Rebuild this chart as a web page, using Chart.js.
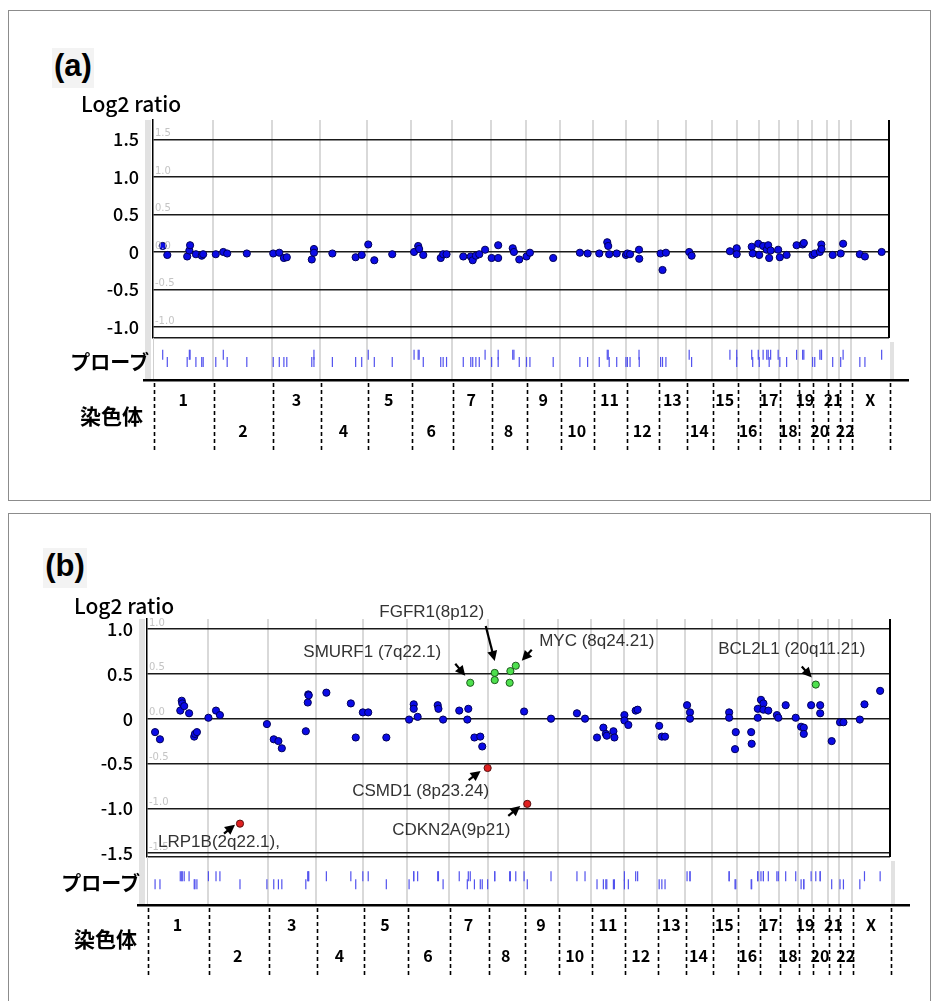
<!DOCTYPE html>
<html>
<head>
<meta charset="utf-8">
<script src="https://cdn.jsdelivr.net/npm/chart.js@4.4.1/dist/chart.umd.min.js"></script>
<style>
  body { margin: 0; background: #fff; width: 938px; height: 1001px; overflow: hidden; position: relative; }
  canvas { position: absolute; left: 0; }
  .box { position: absolute; left: 8px; width: 921px; border: 1px solid #8c8c8c; }
  .tag { position: absolute; height: 40px; line-height: 40px; background: #f3f3f3; text-align: center;
         font: bold 31px "Liberation Sans", Arial, sans-serif; color: #000; }
  .ylab { position: absolute; font: 500 21px "Noto Sans CJK JP", sans-serif; line-height: 24px; color: #000; }
  .jp { position: absolute; font: bold 20px "Noto Sans CJK JP", sans-serif; line-height: 26px; color: #000; text-align: right; }
</style>
</head>
<body>
<div class="box" style="top:10px;height:489px"></div>
<div class="box" style="top:513px;height:520px"></div>

<canvas id="chartA" width="938" height="505" style="top:0"></canvas>
<canvas id="chartB" width="938" height="496" style="top:505px"></canvas>

<div class="tag" style="left:52px;top:48px;width:42px">(a)</div>
<div class="ylab" style="left:81px;top:91px">Log2 ratio</div>
<div class="jp" style="left:30px;top:349px;width:119px">プローブ</div>
<div class="jp" style="left:70px;top:402px;width:73px;font-size:21px">染色体</div>

<div class="tag" style="left:43px;top:548px;width:44px">(b)</div>
<div class="ylab" style="left:74px;top:593px">Log2 ratio</div>
<div class="jp" style="left:20px;top:870px;width:120px">プローブ</div>
<div class="jp" style="left:63px;top:925px;width:74px;font-size:21px">染色体</div>

<script>
// chromosomes (length in Mb)
const chromNames = ['1','2','3','4','5','6','7','8','9','10','11','12','13','14','15','16','17','18','19','20','21','22','X'];
const chromLen = [249.3, 243.2, 198.0, 191.2, 180.9, 171.1, 159.1, 146.4, 141.2, 135.5, 135.0, 133.9,
                  115.2, 107.3, 102.5, 90.4, 81.2, 78.1, 59.1, 63.0, 48.1, 51.3, 155.3];

// panel (a): genome position (Mb, cumulative) and log2 ratio
const posA = [40, 59, 141, 150, 153, 177, 201, 207, 259, 290, 306, 387, 496, 521, 540, 552, 655, 664, 664, 740,
              836, 861, 888, 913, 987, 1077, 1094, 1098, 1115, 1187, 1197, 1211, 1280, 1311, 1319, 1332, 1346, 1370,
              1397, 1424, 1424, 1484, 1489, 1511, 1541, 1555, 1651, 1761, 1793, 1841, 1874, 1878, 1882, 1913, 1951,
              1957, 1968, 2005, 2006, 2094, 2102, 2116, 2212, 2222, 2380, 2408, 2408, 2470, 2474, 2497, 2501, 2517,
              2532, 2538, 2542, 2548, 2579, 2586, 2614, 2655, 2680, 2685, 2721, 2730, 2751, 2757, 2758, 2804, 2837,
              2847, 2916, 2937, 3006];
const valA = [0.08, -0.04, -0.06, 0.02, 0.09, -0.03, -0.05, -0.03, -0.03, 0, -0.02, -0.02, -0.02, -0.01, -0.08, -0.07,
              -0.1, 0.04, -0.01, -0.02, -0.07, -0.04, 0.1, -0.11, -0.03, 0, 0.08, 0.04, -0.04, -0.08, -0.03, -0.03,
              -0.06, -0.06, -0.11, -0.05, -0.03, 0.03, -0.08, 0.09, -0.08, 0.05, 0, -0.1, -0.06, -0.01, -0.08, -0.01,
              -0.02, -0.02, 0.13, 0.08, -0.03, -0.02, -0.04, -0.02, -0.03, 0.03, -0.09, -0.02, -0.24, -0.01, 0, -0.05,
              0.01, 0.05, -0.03, 0.07, -0.02, 0.11, -0.04, 0.08, 0.03, 0.09, -0.08, 0.02, 0.03, -0.07, -0.04, 0.09,
              0.1, 0.12, -0.04, -0.02, 0, 0.1, 0.04, -0.04, -0.02, 0.11, -0.03, -0.06, 0];

// panel (b): ordinary probes
const posB = [33, 53, 136, 142, 144, 152, 172, 193, 196, 204, 251, 282, 298, 490, 518, 537, 551, 649, 657, 659, 661,
              733, 833, 853, 882, 904, 978, 1071, 1090, 1090, 1106, 1188, 1191, 1210, 1276, 1309, 1313, 1338, 1362,
              1370, 1541, 1651, 1757, 1790, 1839, 1865, 1875, 1879, 1906, 1910, 1951, 1951, 1967, 1997, 2005, 2093,
              2104, 2117, 2207, 2219, 2219, 2379, 2379, 2403, 2406, 2469, 2471, 2496, 2496, 2509, 2519, 2519, 2539,
              2574, 2580, 2610, 2651, 2673, 2684, 2684, 2714, 2751, 2751, 2798, 2832, 2846, 2913, 2932, 2996];
const valB = [-0.15, -0.23, 0.09, 0.2, 0.17, 0.14, 0.06, -0.2, -0.17, -0.15, 0.01, 0.09, 0.04, -0.06, -0.23, -0.25,
              -0.33, -0.14, 0.18, 0.27, 0.26, 0.29, 0.17, -0.21, 0.07, 0.07, -0.21, -0.01, 0.16, 0.11, 0.02, 0.15, 0.11,
              -0.01, 0.09, -0.01, 0.11, -0.21, -0.2, -0.31, 0.08, 0, 0.06, 0, -0.21, -0.1, -0.17, -0.19, -0.14, -0.21,
              0.04, -0.02, -0.07, 0.09, 0.1, -0.08, -0.2, -0.2, 0.15, 0.07, 0, 0.07, 0.01, -0.34, -0.15, -0.15, -0.28,
              0.11, 0.01, 0.21, 0.17, 0.1, 0.09, 0.04, 0.01, 0.15, 0.01, -0.09, -0.1, -0.17, 0.15, 0.15, 0.06, -0.25,
              -0.04, -0.04, -0.01, 0.16, 0.31];
// panel (b): gains (green) and losses (red)
const gainPosB = [1321, 1421, 1421, 1482, 1485, 1507, 2733];
const gainValB = [0.4, 0.51, 0.43, 0.4, 0.53, 0.59, 0.38];
const lossPosB = [380, 1392, 1554];
const lossValB = [-1.17, -0.55, -0.95];

// labelled genes in panel (b)
const geneNames = ['FGFR1(8p12)', 'SMURF1 (7q22.1)', 'MYC (8q24.21)', 'BCL2L1 (20q11.21)',
                   'CSMD1 (8p23.24)', 'CDKN2A(9p21)', 'LRP1B(2q22.1),'];
const genePos = [1421, 1321, 1507, 2733, 1392, 1554, 380];
const geneVal = [0.51, 0.4, 0.59, 0.38, -0.55, -0.95, -1.17];

// y tick labels
const yTicksA = [1.5, 1, 0.5, 0, -0.5, -1];
const yTicksB = [1, 0.5, 0, -0.5, -1, -1.5];

// chromosome edges
const chromStart = [];
chromLen.reduce((acc, l) => { chromStart.push(acc); return acc + l; }, 0);
const genomeEnd = chromStart[chromStart.length - 1] + chromLen[chromLen.length - 1];
const chromEdges = chromStart.concat([genomeEnd]);

const pts = (xs, ys) => xs.map((v, i) => ({ x: v, y: ys[i] }));
// probe strip: gains drawn in the upper lane, losses in the lower one
const lanes = (xs, ys) => xs.map((v, i) => ({ x: v, y: ys[i] >= 0 ? 0.6 : 0.43 }));

// label / arrow offsets (px) from the pointed probe
const noteLayout = [
  { text: [-63, -61], from: [-9, -47], to: [0, -12] },
  { text: [-98, -30], from: [-15, -19], to: [-5, -7] },
  { text: [81, -24], from: [16, -16], to: [6, -5] },
  { text: [-24, -35], from: [-14, -18], to: [-4, -7] },
  { text: [-67, 23], from: [-19, 12], to: [-7, 3] },
  { text: [-76, 26], from: [-19, 12], to: [-7, 2] },
  { text: [-21, 19], from: [-16, 10], to: [-5, 1] },
];

function arrow(ctx, x1, y1, x2, y2) {
  const a = Math.atan2(y2 - y1, x2 - x1), h = 10, w = 5;
  ctx.beginPath();
  ctx.moveTo(x1, y1);
  ctx.lineTo(x2 - h * 0.7 * Math.cos(a), y2 - h * 0.7 * Math.sin(a));
  ctx.stroke();
  ctx.beginPath();
  ctx.moveTo(x2, y2);
  ctx.lineTo(x2 - h * Math.cos(a) + w * Math.sin(a), y2 - h * Math.sin(a) - w * Math.cos(a));
  ctx.lineTo(x2 - h * Math.cos(a) - w * Math.sin(a), y2 - h * Math.sin(a) + w * Math.cos(a));
  ctx.closePath();
  ctx.fill();
}

const panelDecor = {
  id: 'panelDecor',
  beforeDatasetsDraw(chart) {
    const { ctx, chartArea: ca } = chart;
    ctx.save();
    ctx.fillStyle = '#e2e2e2';
    ctx.fillRect(ca.left - 8, ca.top, 6, ca.bottom - ca.top);
    ctx.fillRect(ca.right + 1, chart.scales.yp.top + 4, 4, chart.scales.yp.height - 4);
    ctx.restore();
  },
  afterDraw(chart, args, opts) {
    const { ctx, chartArea: ca } = chart;
    const x = chart.scales.x, y = chart.scales.y;
    ctx.save();
    // right frame of the ratio plot
    ctx.strokeStyle = '#000';
    ctx.lineWidth = 2;
    ctx.beginPath();
    ctx.moveTo(ca.right, y.top);
    ctx.lineTo(ca.right, y.bottom);
    ctx.stroke();

    // faint values inside the plot
    ctx.fillStyle = '#c4c4c4';
    ctx.font = '10px "DejaVu Sans", sans-serif';
    ctx.textAlign = 'left';
    ctx.textBaseline = 'bottom';
    opts.ticks.forEach(v => ctx.fillText(v.toFixed(1), ca.left + 2, y.getPixelForValue(v) - 1));

    // base line under probe strip
    ctx.fillStyle = '#000';
    ctx.fillRect(ca.left - 10, ca.bottom - 1, ca.right - ca.left + 30, 2.5);

    // chromosome separators
    ctx.lineWidth = 1.6;
    ctx.setLineDash([4, 3]);
    chromEdges.forEach(b => {
      const px = Math.round(x.getPixelForValue(b)) + 1.5;
      ctx.beginPath();
      ctx.moveTo(px, ca.bottom + 3);
      ctx.lineTo(px, ca.bottom + 72);
      ctx.stroke();
    });
    ctx.setLineDash([]);

    // chromosome numbers, odd on the top row
    ctx.font = 'bold 16px "Noto Sans CJK JP", sans-serif';
    ctx.textAlign = 'center';
    ctx.textBaseline = 'middle';
    chromNames.forEach((n, i) => {
      const px = x.getPixelForValue(chromStart[i] + chromLen[i] / 2);
      ctx.fillText(n, px, ca.bottom + (i % 2 ? 51 : 20));
    });

    // gene labels with arrows
    if (opts.genes) {
      ctx.lineWidth = 2.2;
      ctx.strokeStyle = '#000';
      ctx.font = '17px "Liberation Sans", Arial, sans-serif';
      geneNames.forEach((g, i) => {
        const px = x.getPixelForValue(genePos[i]);
        const py = y.getPixelForValue(geneVal[i]);
        const L = noteLayout[i];
        ctx.fillStyle = '#000';
        arrow(ctx, px + L.from[0], py + L.from[1], px + L.to[0], py + L.to[1]);
        ctx.fillStyle = '#333';
        ctx.fillText(g, px + L.text[0], py + L.text[1]);
      });
    }
    ctx.restore();
  }
};

const tickFont = { family: '"Noto Sans CJK JP", sans-serif', size: 18, weight: '500' };

function makePanel(id, p) {
  return new Chart(document.getElementById(id), {
    type: 'scatter',
    data: { datasets: p.datasets },
    options: {
      responsive: false,
      animation: false,
      layout: { padding: { top: p.top, bottom: p.bottom, left: 0, right: p.right } },
      plugins: {
        legend: { display: false },
        tooltip: { enabled: false },
        panelDecor: { ticks: p.ticks, genes: p.genes }
      },
      scales: {
        x: {
          type: 'linear', min: 0, max: genomeEnd,
          afterBuildTicks: s => { s.ticks = chromEdges.map(v => ({ value: v })); },
          ticks: { display: false, autoSkip: false },
          grid: {
            color: c => (c.index === 0 || c.index === chromEdges.length - 1) ? 'rgba(0,0,0,0)' : '#d9d9d9',
            lineWidth: 2, drawTicks: false
          },
          border: { display: false }
        },
        y: {
          stack: 'main', stackWeight: p.plotH, weight: 2,
          min: p.min, max: p.max,
          afterFit: s => { s.width = p.left; },
          afterBuildTicks: s => { s.ticks = p.ticks.concat([s.min]).map(v => ({ value: v })); },
          ticks: {
            autoSkip: false, padding: 14, color: '#000', font: tickFont,
            callback: v => p.ticks.includes(v) ? (v === 0 ? '0' : v.toFixed(1)) : ''
          },
          grid: { color: '#1a1a1a', lineWidth: 1.5, drawTicks: false },
          border: { color: '#000', width: 1.5 }
        },
        yp: {
          stack: 'main', stackWeight: p.stripH, weight: 1,
          min: 0, max: 1,
          afterFit: s => { s.width = p.left; },
          ticks: { display: false },
          grid: { display: false, drawTicks: false },
          border: { color: '#cfcfcf', width: 1 }
        }
      }
    },
    plugins: [panelDecor]
  });
}

const dotStyle = { pointRadius: 3.6, borderWidth: 1, yAxisID: 'y' };
const probeStyle = { yAxisID: 'yp', pointStyle: 'line', rotation: 90, pointRadius: 5,
                     borderColor: '#5252ee', borderWidth: 1.2 };

makePanel('chartA', {
  top: 120, bottom: 125, right: 49, left: 153, plotH: 218, stripH: 42,
  min: -1.147, max: 1.76, ticks: yTicksA, genes: false,
  datasets: [
    { ...probeStyle, data: lanes(posA, valA) },
    { ...dotStyle, data: pts(posA, valA), backgroundColor: '#0b0be6', borderColor: '#00005a' }
  ]
});

makePanel('chartB', {
  top: 114, bottom: 96, right: 48, left: 147, plotH: 238, stripH: 48,
  min: -1.542, max: 1.111, ticks: yTicksB, genes: true,
  datasets: [
    { ...probeStyle, data: lanes(posB.concat(gainPosB, lossPosB), valB.concat(gainValB, lossValB)) },
    { ...dotStyle, data: pts(posB, valB), backgroundColor: '#0b0be6', borderColor: '#00005a' },
    { ...dotStyle, data: pts(gainPosB, gainValB), backgroundColor: '#4ee04e', borderColor: '#1d5a1d' },
    { ...dotStyle, data: pts(lossPosB, lossValB), backgroundColor: '#e02020', borderColor: '#5a1010' }
  ]
});
</script>
</body>
</html>
